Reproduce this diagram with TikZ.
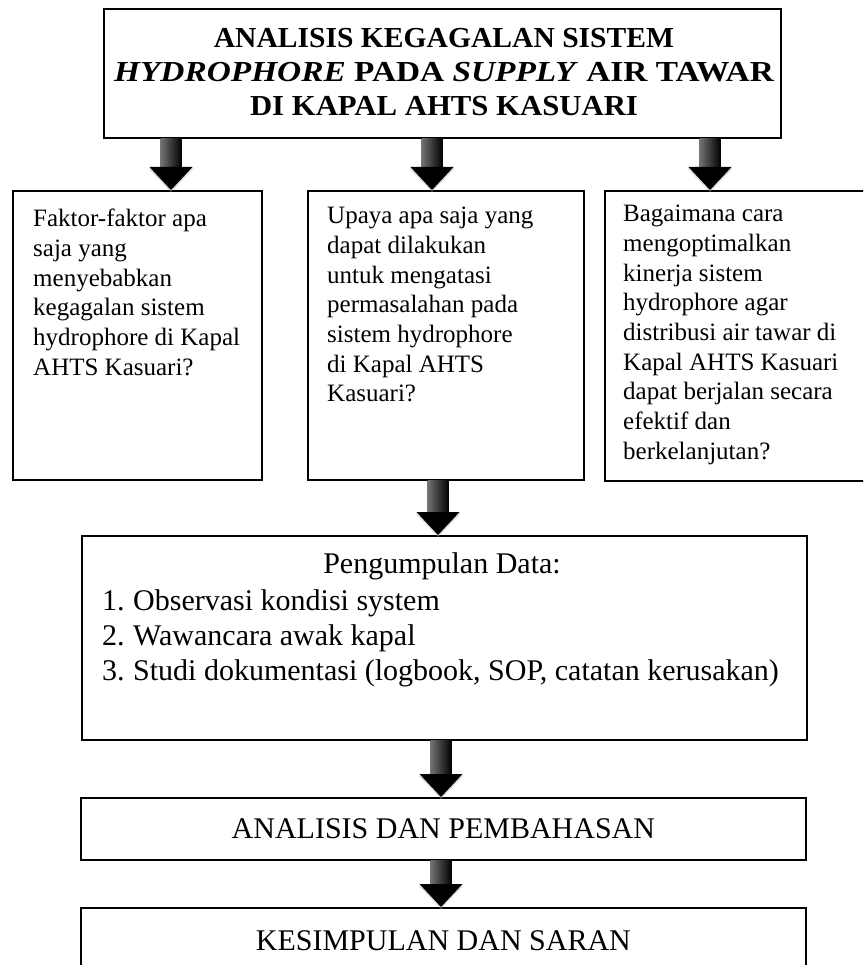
\documentclass[tikz,border=0pt]{standalone}
\usepackage{fontspec}
\usepackage{graphicx}
\setmainfont{Liberation Serif}
\usetikzlibrary{calc}
\tikzset{
  box/.style={draw=black, line width=1.8pt, anchor=north west, inner sep=0pt},
  qtext/.style={anchor=north west, inner sep=0pt, align=left, font=\fontsize{25}{29.7}\selectfont},
  bigtext/.style={font=\fontsize{30}{35}\selectfont},
  titletext/.style={anchor=north, inner sep=0pt, align=center, font=\bfseries\fontsize{29}{34}\selectfont},
  arrowshaft/.style={left color=black!55, right color=black},
  arrowhead/.style={fill=black},
  arrowglow/.style={fill=black!30, opacity=0.45},
}
\newcommand\tline[2]{\scalebox{#1}[1]{#2}}
\newcommand\blockarrow[3]{%
  \path (#1,0 |- #2) coordinate (ba-s) (#1,0 |- #3) coordinate (ba-t);
  \fill[arrowglow] ($(ba-t)+(-22.5,-21.5)$) -- ($(ba-t)+(22.5,-21.5)$) -- ($(ba-t)+(0,2)$) -- cycle;
  \fill[arrowshaft] ($(ba-s)+(-10.5,0)$) rectangle ($(ba-t)+(10.5,-22)$);
  \fill[arrowhead] ($(ba-t)+(-21.5,-23)$) -- ($(ba-t)+(21.5,-23)$) -- (ba-t) -- cycle;
}
\begin{document}
\begin{tikzpicture}[x=1pt,y=-1pt]
\useasboundingbox (0,0) rectangle (863,965);
\fill[white] (0,0) rectangle (863,965);
\clip (0,0) rectangle (863,965);

\node[box, minimum width=677pt, minimum height=129pt] (title) at (103,8) {};
\node[titletext] (tt) at (444,28.3)
  {\tline{1.02}{ANALISIS KEGAGALAN SISTEM}\\\tline{1.15}{\textit{HYDROPHORE} PADA \textit{SUPPLY} AIR TAWAR}\\\tline{1.06}{DI KAPAL AHTS KASUARI}};

\node[box, minimum width=249pt, minimum height=289pt] (b1) at (12,190) {};
\node[box, minimum width=276pt, minimum height=289pt] (b2) at (307,190) {};
\node[box, minimum width=290pt, minimum height=290pt] (b3) at (604,190) {};

\node[qtext] (q1) at (33,209) {Faktor-faktor apa\\saja yang\\menyebabkan\\kegagalan sistem\\hydrophore di Kapal\\AHTS Kasuari?};
\node[qtext] (q2) at (327,207) {Upaya apa saja yang\\dapat dilakukan\\untuk mengatasi\\permasalahan pada\\sistem hydrophore\\di Kapal AHTS\\Kasuari?};
\node[qtext] (q3) at (623,205) {Bagaimana cara\\mengoptimalkan\\kinerja sistem\\hydrophore agar\\distribusi air tawar di\\Kapal AHTS Kasuari\\dapat berjalan secara\\efektif dan\\berkelanjutan?};

\node[box, minimum width=725pt, minimum height=204pt] (data) at (81,535) {};
\node[bigtext, anchor=base, inner sep=0pt] (dh) at (442,573) {Pengumpulan Data:};
\node[bigtext, anchor=north west, inner sep=0pt, align=left] (dl) at (102,589.5)
  {\makebox[31pt][l]{1.}Observasi kondisi system\\\makebox[31pt][l]{2.}Wawancara awak kapal\\\makebox[31pt][l]{3.}Studi dokumentasi (logbook, SOP, catatan kerusakan)};

\node[box, minimum width=725pt, minimum height=62pt, bigtext] (anl) at (80,797) {ANALISIS DAN PEMBAHASAN};
\node[box, minimum width=725pt, minimum height=66pt, bigtext] (kes) at (80,907) {KESIMPULAN DAN SARAN};

\blockarrow{171}{title.south}{b1.north}
\blockarrow{432}{title.south}{b2.north}
\blockarrow{710}{title.south}{b3.north}
\blockarrow{438}{b2.south}{data.north}
\blockarrow{441}{data.south}{anl.north}
\blockarrow{441}{anl.south}{kes.north}
\end{tikzpicture}
\end{document}
